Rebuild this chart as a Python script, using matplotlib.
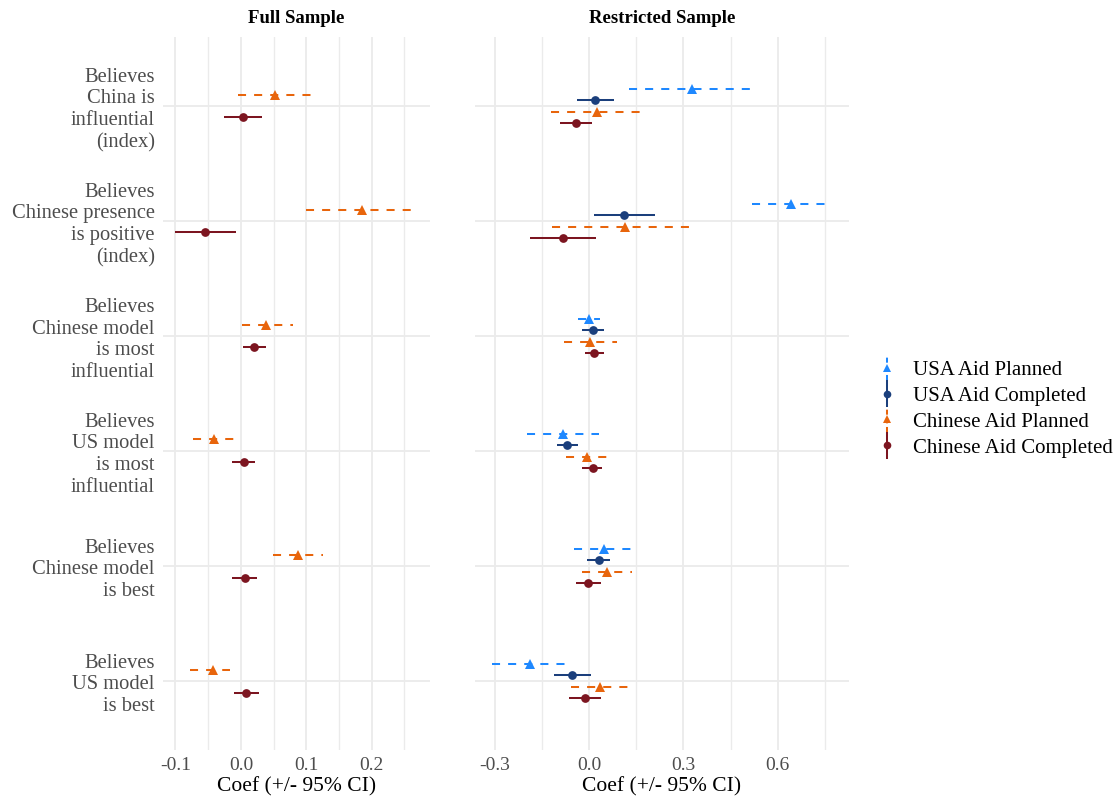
import matplotlib
matplotlib.use("Agg")
import matplotlib.pyplot as plt
from matplotlib.lines import Line2D
from matplotlib.legend_handler import HandlerBase
import numpy as np

plt.rcParams['font.family'] = ['Liberation Serif', 'DejaVu Serif']

categories = [
    "Believes\nChina is\ninfluential\n(index)",
    "Believes\nChinese presence\nis positive\n(index)",
    "Believes\nChinese model\nis most\ninfluential",
    "Believes\nUS model\nis most\ninfluential",
    "Believes\nChinese model\nis best",
    "Believes\nUS model\nis best",
]

# Full sample (only Chinese aid)
full_cn_plan = [0.052, 0.185, 0.039, -0.041, 0.087, -0.042]
full_cn_plan_lo = [-0.004, 0.100, 0.001, -0.073, 0.049, -0.078]
full_cn_plan_hi = [0.109, 0.263, 0.079, -0.011, 0.125, -0.016]
full_cn_comp = [0.003, -0.055, 0.020, 0.005, 0.006, 0.008]
full_cn_comp_lo = [-0.026, -0.101, 0.003, -0.013, -0.013, -0.011]
full_cn_comp_hi = [0.032, -0.008, 0.038, 0.022, 0.024, 0.027]

# Restricted sample
res_us_plan = [0.328, 0.643, 0.000, -0.083, 0.048, -0.189]
res_us_plan_lo = [0.128, 0.518, -0.036, -0.198, -0.047, -0.310]
res_us_plan_hi = [0.521, 0.754, 0.036, 0.031, 0.138, -0.073]
res_us_comp = [0.020, 0.112, 0.012, -0.069, 0.030, -0.053]
res_us_comp_lo = [-0.037, 0.016, -0.021, -0.101, -0.006, -0.111]
res_us_comp_hi = [0.080, 0.210, 0.046, -0.036, 0.066, 0.005]
res_cn_plan = [0.024, 0.115, 0.003, -0.006, 0.056, 0.035]
res_cn_plan_lo = [-0.122, -0.119, -0.080, -0.074, -0.023, -0.058]
res_cn_plan_hi = [0.165, 0.325, 0.089, 0.056, 0.137, 0.125]
res_cn_comp = [-0.042, -0.083, 0.016, 0.011, -0.003, -0.014]
res_cn_comp_lo = [-0.094, -0.187, -0.014, -0.021, -0.041, -0.065]
res_cn_comp_hi = [0.010, 0.021, 0.046, 0.042, 0.037, 0.037]

series_names = ["USA Aid Planned", "USA Aid Completed", "Chinese Aid Planned", "Chinese Aid Completed"]
colors = {"USA Aid Planned": "#1E88FF", "USA Aid Completed": "#1B3F7C",
          "Chinese Aid Planned": "#E8650C", "Chinese Aid Completed": "#7C1520"}
styles = {"USA Aid Planned": ("--", "^"), "USA Aid Completed": ("-", "o"),
          "Chinese Aid Planned": ("--", "^"), "Chinese Aid Completed": ("-", "o")}
msizes = {"^": 7.2, "o": 6.3}

W, H = 1118, 802
fig = plt.figure(figsize=(W / 100, H / 100), dpi=100)
fig.patch.set_facecolor("white")

ax_top, ax_bot = 37, 750
axL = fig.add_axes([163 / W, 1 - ax_bot / H, (430 - 163) / W, (ax_bot - ax_top) / H])
axR = fig.add_axes([475 / W, 1 - ax_bot / H, (849 - 475) / W, (ax_bot - ax_top) / H])

n = len(categories)
ypos = np.arange(n, 0, -1).astype(float)  # top category highest

LW = 1.45
grid_c = "#EBEBEB"


def draw(ax, name, est, lo, hi, offset):
    ls, mk = styles[name]
    c = colors[name]
    y = ypos + offset
    for yi, l, h in zip(y, lo, hi):
        ln, = ax.plot([l, h], [yi, yi], color=c, lw=LW, ls=ls, solid_capstyle='butt',
                      dash_capstyle='butt', zorder=3)
        if ls == "--":
            ln.set_dashes((4, 4))
    ax.plot(est, y, ls="none", marker=mk, color=c, ms=msizes[mk], zorder=4,
            markeredgewidth=0)


draw(axL, "Chinese Aid Planned", full_cn_plan, full_cn_plan_lo, full_cn_plan_hi, 0.1)
draw(axL, "Chinese Aid Completed", full_cn_comp, full_cn_comp_lo, full_cn_comp_hi, -0.1)

draw(axR, "USA Aid Planned", res_us_plan, res_us_plan_lo, res_us_plan_hi, 0.15)
draw(axR, "USA Aid Completed", res_us_comp, res_us_comp_lo, res_us_comp_hi, 0.05)
draw(axR, "Chinese Aid Planned", res_cn_plan, res_cn_plan_lo, res_cn_plan_hi, -0.05)
draw(axR, "Chinese Aid Completed", res_cn_comp, res_cn_comp_lo, res_cn_comp_hi, -0.15)

axL.set_xlim(-0.119, 0.289)
axR.set_xlim(-0.363, 0.827)
axL.set_xticks([-0.1, 0.0, 0.1, 0.2])
axL.set_xticklabels(["-0.1", "0.0", "0.1", "0.2"])
axL.set_xticks([-0.05, 0.05, 0.15, 0.25], minor=True)
axR.set_xticks([-0.3, 0.0, 0.3, 0.6])
axR.set_xticklabels(["-0.3", "0.0", "0.3", "0.6"])
axR.set_xticks([-0.15, 0.15, 0.45, 0.75], minor=True)

for ax, title in [(axL, "Full Sample"), (axR, "Restricted Sample")]:
    ax.set_ylim(0.4, n + 0.6)
    ax.set_yticks(ypos)
    for s in ax.spines.values():
        s.set_visible(False)
    ax.grid(True, which="major", axis="both", color=grid_c, lw=1.3, zorder=0)
    ax.grid(True, which="minor", axis="x", color=grid_c, lw=1.0, zorder=0)
    ax.set_axisbelow(True)
    ax.tick_params(axis="both", which="both", length=0)
    ax.tick_params(axis="x", labelsize=14, pad=5, labelcolor="#4D4D4D")
    ax.set_xlabel("Coef (+/- 95% CI)", fontsize=15.5, labelpad=2)
    ax.set_title(title, fontsize=13.5, fontweight="bold", pad=10)

axL.set_yticklabels(categories, fontsize=14.8, color="#4D4D4D", linespacing=1.2,
                    ha="right", multialignment="right")
axL.tick_params(axis="y", pad=6)
axR.set_yticklabels([])


class VKeyHandler(HandlerBase):
    def create_artists(self, legend, orig_handle, xdescent, ydescent, width, height,
                       fontsize, trans):
        c, ls, mk = orig_handle
        x = width / 2 - xdescent
        yc = height / 2 - ydescent
        ln = Line2D([x, x], [yc - 9, yc + 9], color=c, lw=LW, ls=ls, transform=trans)
        if ls == "--":
            ln.set_dashes((2.5, 1.8))
        m = Line2D([x], [yc], ls="none", marker=mk, color=c, ms=msizes[mk] - 0.8,
                   markeredgewidth=0, transform=trans)
        return [ln, m]


handles = [(colors[s], styles[s][0], styles[s][1]) for s in series_names]
fig.legend(handles, series_names, handler_map={tuple: VKeyHandler()},
           loc="center left", bbox_to_anchor=(868 / W, 1 - 409 / H), frameon=False,
           fontsize=15, handlelength=1.0, handletextpad=0.75, labelspacing=0.3,
           borderaxespad=0)

fig.savefig("out.png", dpi=100, facecolor="white")
